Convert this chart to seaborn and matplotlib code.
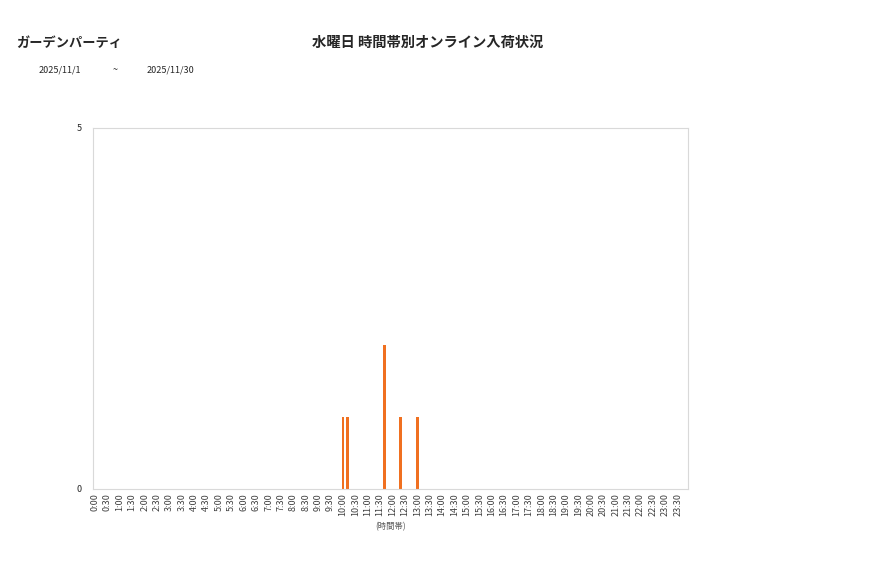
import matplotlib
matplotlib.use("Agg")
import matplotlib.pyplot as plt
import seaborn as sns
import pandas as pd

# 10-minute slots over one day
time_slots = [f"{h}:{m:02d}" for h in range(24) for m in range(0, 60, 10)]

# only the non-empty slots
busy_slots = ["10:00", "10:10", "11:40", "12:20", "13:00"]
busy_counts = [1, 1, 2, 1, 1]

counts = [busy_counts[busy_slots.index(t)] if t in busy_slots else 0 for t in time_slots]
df = pd.DataFrame({"slot": time_slots, "count": counts})

shop_name = "ガーデンパーティ"
chart_title = "水曜日 時間帯別オンライン入荷状況"
date_from = "2025/11/1"
date_to = "2025/11/30"

sns.set_theme(style="white")
plt.rcParams["font.family"] = ["Noto Sans CJK JP", "DejaVu Sans"]

fig = plt.figure(figsize=(8.77, 5.78), dpi=100)
ax = fig.add_axes([0.106, 0.154, 0.6785, 0.6246])

sns.barplot(data=df, x="slot", y="count", order=time_slots, color="#F07020",
            width=0.68, saturation=1, linewidth=0, ax=ax)

ax.set_ylim(0, 5)
ax.set_yticks([0, 5])
ax.set_yticklabels(["0", "5"], fontsize=6.5)
ax.set_xlim(-0.5, len(time_slots) - 0.5)
ax.set_xticks(range(0, len(time_slots), 3))
ax.set_xticklabels(time_slots[::3], rotation=90, fontsize=6.5, color="#404040")
ax.tick_params(axis="both", length=0, pad=3)
ax.tick_params(axis="y", pad=8)
ax.set_xlabel("(時間帯)", fontsize=6, color="#595959", labelpad=4)
ax.set_ylabel("")
for s in ax.spines.values():
    s.set_color("#d9d9d9")
    s.set_linewidth(0.8)

fig.text(0.019, 0.925, shop_name, fontsize=9.5, fontweight="bold", va="center")
fig.text(0.488, 0.925, chart_title, fontsize=10.3, fontweight="bold", va="center", ha="center")
fig.text(0.044, 0.879, date_from, fontsize=6.5, va="center")
fig.text(0.128, 0.879, "~", fontsize=6.5, va="center")
fig.text(0.167, 0.879, date_to, fontsize=6.5, va="center")

fig.savefig("out.png", dpi=100)
